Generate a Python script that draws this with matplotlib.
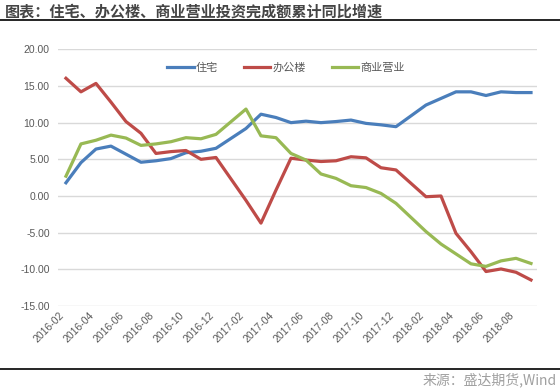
import matplotlib.pyplot as plt
from matplotlib.lines import Line2D

plt.rcParams['font.family'] = ['Noto Sans CJK SC', 'DejaVu Sans']

# 月份（1月数据缺失）
months = ['2016-02', '2016-03', '2016-04', '2016-05', '2016-06', '2016-07', '2016-08',
          '2016-09', '2016-10', '2016-11', '2016-12',
          '2017-02', '2017-03', '2017-04', '2017-05', '2017-06', '2017-07', '2017-08',
          '2017-09', '2017-10', '2017-11', '2017-12',
          '2018-02', '2018-03', '2018-04', '2018-05', '2018-06', '2018-07', '2018-08',
          '2018-09']

zhuzhai = [1.8, 4.55, 6.4, 6.8, 5.7, 4.6, 4.8, 5.1, 5.9, 6.1, 6.5,
           9.2, 11.15, 10.7, 10.0, 10.2, 10.0, 10.15, 10.35, 9.9, 9.7, 9.45,
           12.4, 13.3, 14.2, 14.2, 13.7, 14.2, 14.1, 14.1]
bangonglou = [16.05, 14.2, 15.35, 12.8, 10.15, 8.55, 5.8, 6.05, 6.2, 5.0, 5.25,
              -0.6, -3.7, 0.8, 5.15, 4.9, 4.7, 4.8, 5.35, 5.2, 3.85, 3.55,
              -0.1, 0.0, -5.1, -7.6, -10.3, -9.95, -10.4, -11.45]
shangye = [2.7, 7.1, 7.6, 8.3, 7.9, 6.9, 7.1, 7.4, 7.95, 7.8, 8.4,
           11.85, 8.2, 7.95, 5.8, 4.9, 3.0, 2.4, 1.4, 1.15, 0.35, -1.0,
           -4.85, -6.55, -7.9, -9.25, -9.6, -8.85, -8.5, -9.2]

tick_labels = ['2016-02', '2016-04', '2016-06', '2016-08', '2016-10', '2016-12',
               '2017-02', '2017-04', '2017-06', '2017-08', '2017-10', '2017-12',
               '2018-02', '2018-04', '2018-06', '2018-08']
y_ticks = [-15, -10, -5, 0, 5, 10, 15, 20]


# 月份 -> 从2016-02起的月序号（相当于Excel的日期坐标轴）
def month_idx(s):
    y, m = s.split('-')
    return (int(y) - 2016) * 12 + int(m) - 2


x = [month_idx(s) for s in months]

fig = plt.figure(figsize=(5.6, 3.91), dpi=100)
ax = fig.add_axes([58 / 560, 85 / 391, 479 / 560, 256.7 / 391])

ax.plot(x, zhuzhai, color='#4a7ebb', lw=2.3, label='住宅')
ax.plot(x, bangonglou, color='#be4b48', lw=2.3, label='办公楼')
ax.plot(x, shangye, color='#98b954', lw=2.3, label='商业营业')

ax.set_ylim(-15, 20)
ax.set_xlim(-0.53, 31.4)
ax.set_yticks(y_ticks)
ax.set_yticklabels([f'{v:.2f}' for v in y_ticks], family='Liberation Sans', fontsize=7.5, color='#595959')
ax.set_xticks([month_idx(s) for s in tick_labels])
ax.set_xticklabels(tick_labels, rotation=45, ha='right', va='top', family='Liberation Sans',
                   fontsize=7.5, color='#595959')
ax.tick_params(axis='both', length=0)
ax.tick_params(axis='y', pad=6)
ax.tick_params(axis='x', pad=3)

ax.grid(axis='y', color='#d9d9d9', lw=1)
ax.set_axisbelow(True)
for sp in ax.spines.values():
    sp.set_visible(False)

ax.legend(loc='center', bbox_to_anchor=(0.476, 0.927), ncol=3, frameon=False,
          fontsize=8, handlelength=2.4, handletextpad=0.2, columnspacing=2.3,
          labelcolor='#595959')

# 标题和来源
fig.text(5 / 560, 1 - 12 / 391, '图表：住宅、办公楼、商业营业投资完成额累计同比增速',
         fontsize=10.9, fontweight='bold', color='#454545', va='center', ha='left')
fig.add_artist(Line2D([0, 1], [1 - 19.5 / 391] * 2, color='black', lw=1.2))
fig.add_artist(Line2D([0, 1], [1 - 368.5 / 391] * 2, color='black', lw=1.2))
fig.text(557 / 560, 1 - 380 / 391, '来源：盛达期货,Wind', fontsize=10, style='italic',
         color='#a0a0a0', va='center', ha='right')

fig.savefig('out.png', dpi=100)
